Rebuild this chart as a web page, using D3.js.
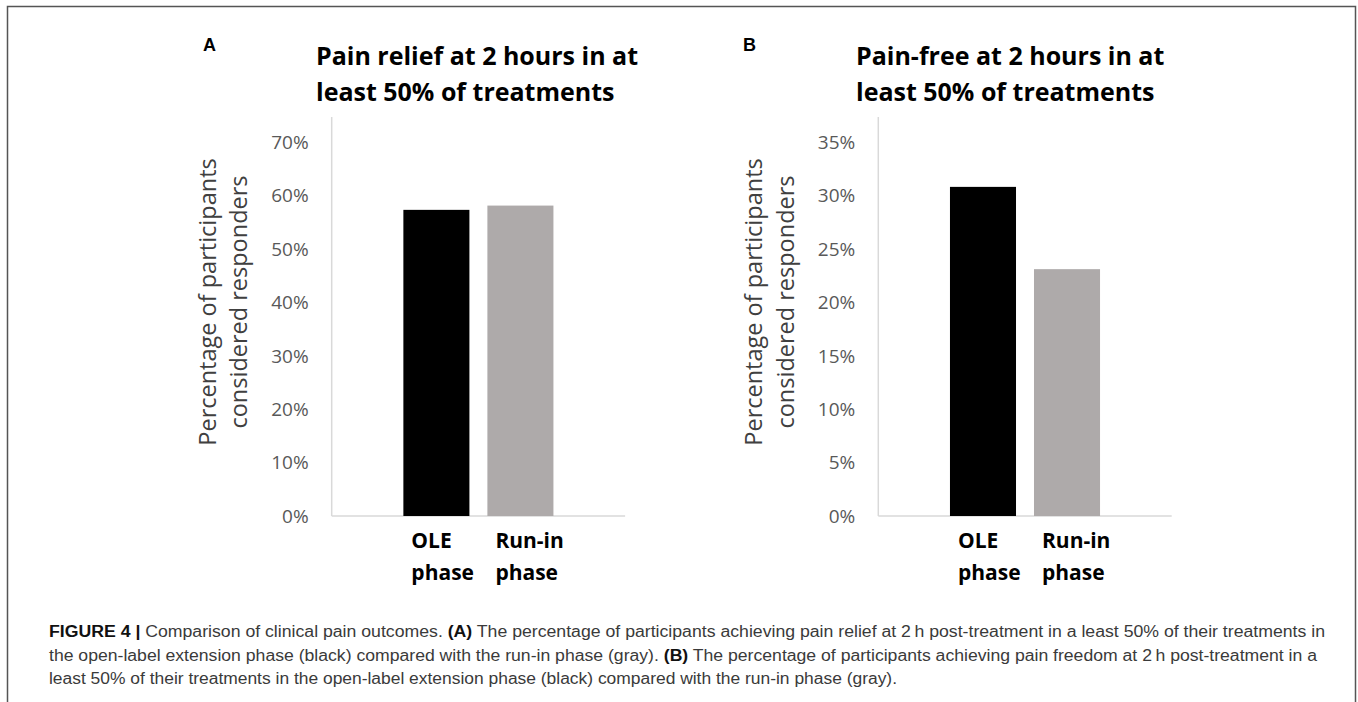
<!DOCTYPE html>
<html lang="en">
<head>
<meta charset="UTF-8">
<title>Figure 4</title>
<script src="https://d3js.org/d3.v7.min.js"></script>
<style>
    body { margin: 0; padding: 0; background: #fff; }
    svg { display: block; }
    .tick-label { font-family: "Open Sans", sans-serif; font-size: 19px; fill: #595959; }
    .y-title { font-family: "Open Sans", sans-serif; font-size: 23.5px; fill: #404040; }
    .chart-title { font-family: "Open Sans", sans-serif; font-weight: bold; font-size: 25px; fill: #000; }
    .cat-label { font-family: "Open Sans", sans-serif; font-weight: bold; font-size: 21px; fill: #000; }
    .panel-letter { font-family: "Liberation Sans", Arial, sans-serif; font-weight: bold; font-size: 18px; fill: #000; }
    .caption { font-family: "Liberation Sans", Arial, sans-serif; font-size: 16px; fill: #3a3a3a; }
    .caption .b { font-weight: bold; fill: #111; }
</style>
</head>
<body>
<svg id="fig" width="1358" height="702"></svg>
<script>
    // data
    var categories = [["OLE", "phase"], ["Run-in", "phase"]];
    var barColors = ["#000000", "#aeaaaa"];

    var reliefValues = [57.3, 58.1];
    var reliefTicks = [0, 10, 20, 30, 40, 50, 60, 70];

    var freeValues = [30.8, 23.1];
    var freeTicks = [0, 5, 10, 15, 20, 25, 30, 35];

    var yTitle = ["Percentage of participants", "considered responders"];

    var captionLines = [
        [["FIGURE 4 | ", true], ["Comparison of clinical pain outcomes. ", false], ["(A)", true],
         [" The percentage of participants achieving pain relief at 2\u2009h post-treatment in a least 50% of their treatments in", false]],
        [["the open-label extension phase (black) compared with the run-in phase (gray). ", false], ["(B)", true],
         [" The percentage of participants achieving pain freedom at 2\u2009h post-treatment in a", false]],
        [["least 50% of their treatments in the open-label extension phase (black) compared with the run-in phase (gray).", false]]
    ];
    var captionWidths = [1276, 1268, 848];

    var svg = d3.select("#fig");

    // frame around the figure
    svg.append("path")
        .attr("d", "M7.5,702 L7.5,6.5 L1355.5,6.5 L1355.5,702")
        .attr("fill", "none")
        .attr("stroke", "#555")
        .attr("stroke-width", 1.5);

    function drawPanel(opt) {
        var g = svg.append("g");
        var x = d3.scaleBand()
            .domain(d3.range(opt.values.length))
            .range([opt.left, opt.left + 293.4])
            .paddingInner(0.214)
            .paddingOuter(0.853);
        var yMax = opt.ticks[opt.ticks.length - 1];
        var y = d3.scaleLinear().domain([0, yMax]).range([516, 142]);

        g.append("text").attr("class", "panel-letter")
            .attr("x", opt.letterX).attr("y", 51).text(opt.letter);

        var t = g.append("text").attr("class", "chart-title");
        opt.title.forEach(function (line, i) {
            t.append("tspan").attr("x", opt.titleX).attr("y", 65 + i * 36).text(line);
        });

        // axis lines
        g.append("line")
            .attr("x1", opt.left).attr("x2", opt.left)
            .attr("y1", y(yMax) - 25).attr("y2", y(0))
            .attr("stroke", "#d9d9d9").attr("stroke-width", 1.5);
        g.append("line")
            .attr("x1", opt.left).attr("x2", opt.left + 293.4)
            .attr("y1", y(0)).attr("y2", y(0))
            .attr("stroke", "#d9d9d9").attr("stroke-width", 1.5);

        g.selectAll(".tick-label").data(opt.ticks).enter()
            .append("text").attr("class", "tick-label")
            .attr("x", opt.left - 23)
            .attr("y", function (d) { return y(d); })
            .attr("dy", "0.36em")
            .attr("text-anchor", "end")
            .text(function (d) { return d + "%"; });

        yTitle.forEach(function (line, i) {
            g.append("text").attr("class", "y-title")
                .attr("transform", "translate(" + (opt.left - 125 + i * 31.5) + ",302) rotate(-90)")
                .attr("text-anchor", "middle")
                .attr("dominant-baseline", "central")
                .text(line);
        });

        g.selectAll("rect").data(opt.values).enter()
            .append("rect")
            .attr("x", function (d, i) { return x(i); })
            .attr("width", x.bandwidth())
            .attr("y", function (d) { return y(d); })
            .attr("height", function (d) { return y(0) - y(d); })
            .attr("fill", function (d, i) { return barColors[i]; });

        categories.forEach(function (lines, i) {
            var ct = g.append("text").attr("class", "cat-label");
            lines.forEach(function (line, j) {
                ct.append("tspan").attr("x", x(i) + 8).attr("y", 548 + j * 32).text(line);
            });
        });
    }

    drawPanel({
        letter: "A", letterX: 203, titleX: 316,
        title: ["Pain relief at 2 hours in at", "least 50% of treatments"],
        left: 331.7, values: reliefValues, ticks: reliefTicks
    });
    drawPanel({
        letter: "B", letterX: 743, titleX: 856,
        title: ["Pain-free at 2 hours in at", "least 50% of treatments"],
        left: 878.3, values: freeValues, ticks: freeTicks
    });

    // caption
    captionLines.forEach(function (parts, i) {
        var ct = svg.append("text").attr("class", "caption")
            .attr("x", 49).attr("y", 637 + i * 23.5)
            .attr("textLength", captionWidths[i])
            .attr("lengthAdjust", "spacingAndGlyphs");
        parts.forEach(function (p) {
            ct.append("tspan").attr("class", p[1] ? "b" : null).text(p[0]);
        });
    });
</script>
</body>
</html>
